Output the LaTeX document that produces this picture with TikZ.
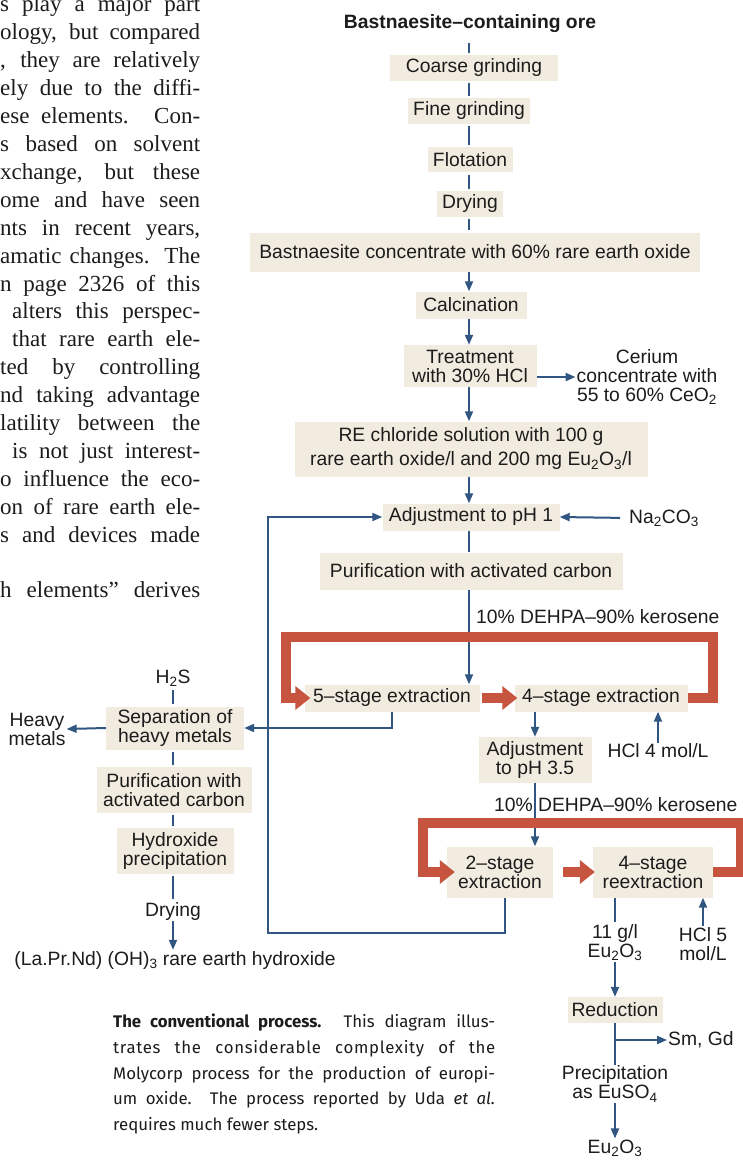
\documentclass[tikz,border=0pt]{standalone}
\usepackage{fontspec}
\setmainfont{Liberation Sans}
\newfontfamily\bodyfont{Liberation Serif}
\newfontfamily\capfont{Fira Sans}
\usetikzlibrary{arrows.meta}
\definecolor{boxfill}{RGB}{242,236,224}
\definecolor{flowblue}{RGB}{50,86,130}
\definecolor{flowred}{RGB}{198,84,62}
\definecolor{ink}{RGB}{28,28,28}
\newcommand\dfont{\fontsize{19.3}{19}\selectfont}
\newcommand\btext{\bodyfont\fontsize{23}{28}\selectfont}
\newcommand\ctext{\capfont\fontsize{16.8}{25.5}\selectfont}
\begin{document}
\begin{tikzpicture}[x=1pt,y=-1pt,
  every node/.style={text=ink},
  proc/.style={fill=boxfill, inner sep=0pt, align=center, font=\dfont},
  lbl/.style={inner sep=1pt, align=center, font=\dfont},
  conn/.style={draw=flowblue, line width=2pt},
  arr/.style={conn, -{Triangle[length=10pt,width=8pt]}},
  redarr/.style={draw=flowred, line width=9.5pt, line join=miter, -{Triangle[length=15pt,width=23pt]}},
  gap/.style={shorten <=2pt, shorten >=2pt},
  bline/.style={anchor=base west, inner sep=0pt, font=\btext},
  cline/.style={anchor=base west, inner sep=0pt, font=\ctext}
]
\fill[white] (0,0) rectangle (743,1161);
\useasboundingbox (0,0) rectangle (743,1161);

% ---- body text (cut-off column) ----
\node[bline] (b1) at (0,12) {\makebox[200pt][s]{s play a major part}};
\node[bline] (b2) at (0,39.9) {\makebox[200pt][s]{ology, but compared}};
\node[bline] (b3) at (0,67.8) {\makebox[200pt][s]{, they are relatively}};
\node[bline] (b4) at (0,95.7) {\makebox[200pt][s]{ely due to the diffi-}};
\node[bline] (b5) at (0,123.6) {\makebox[200pt][s]{ese elements. Con-}};
\node[bline] (b6) at (0,151.5) {\makebox[200pt][s]{s based on solvent}};
\node[bline] (b7) at (0,179.4) {\makebox[200pt][s]{xchange, but these}};
\node[bline] (b8) at (0,207.3) {\makebox[200pt][s]{ome and have seen}};
\node[bline] (b9) at (0,235.2) {\makebox[200pt][s]{nts in recent years,}};
\node[bline] (b10) at (0,263.1) {\makebox[200pt][s]{amatic changes. The}};
\node[bline] (b11) at (0,291) {\makebox[200pt][s]{n page 2326 of this}};
\node[bline] (b12) at (0,318.9) {\makebox[200pt][s]{\hspace*{12pt}alters this perspec-}};
\node[bline] (b13) at (0,346.8) {\makebox[200pt][s]{\hspace*{12pt}that rare earth ele-}};
\node[bline] (b14) at (0,374.7) {\makebox[200pt][s]{ted by controlling}};
\node[bline] (b15) at (0,402.6) {\makebox[200pt][s]{nd taking advantage}};
\node[bline] (b16) at (0,430.5) {\makebox[200pt][s]{latility between the}};
\node[bline] (b17) at (0,458.4) {\makebox[200pt][s]{\hspace*{12pt}is not just interest-}};
\node[bline] (b18) at (0,486.3) {\makebox[200pt][s]{o influence the eco-}};
\node[bline] (b19) at (0,514.2) {\makebox[200pt][s]{on of rare earth ele-}};
\node[bline] (b20) at (0,542.1) {\makebox[200pt][s]{s and devices made}};
\node[bline] (b22) at (0,597.9) {\makebox[200pt][s]{h elements” derives}};

% ---- main column ----
\node[font=\bfseries\dfont, inner sep=1pt] (title) at (470,24) {Bastnaesite–containing ore};
\node[proc, minimum width=168pt, minimum height=26pt] (coarse) at (474,68) {Coarse grinding};
\node[proc, minimum width=122pt, minimum height=26pt] (fine) at (469,111) {Fine grinding};
\node[proc, minimum width=85pt, minimum height=25pt] (flot) at (470,160) {Flotation};
\node[proc, minimum width=66pt, minimum height=26pt] (dry) at (470,204) {Drying};
\node[proc, minimum width=450pt, minimum height=39pt] (conc) at (475,252) {Bastnaesite concentrate with 60\% rare earth oxide};
\node[proc, minimum width=111pt, minimum height=27pt] (calc) at (471,305) {Calcination};
\node[proc, minimum width=133pt, minimum height=42pt] (treat) at (470,366) {Treatment\\with 30\% HCl};
\node[lbl] (cer) at (647,377) {Cerium\\concentrate with\\55 to 60\% CeO\textsubscript{2}};
\node[proc, minimum width=353pt, minimum height=55pt] (rechl) at (471,449) {RE chloride solution with 100 g\\[5pt]rare earth oxide/l and 200 mg Eu\textsubscript{2}O\textsubscript{3}/l};
\node[proc, minimum width=177pt, minimum height=27pt] (adj1) at (471,517) {Adjustment to pH 1};
\node[lbl, anchor=west] (na) at (628,518) {Na\textsubscript{2}CO\textsubscript{3}};
\node[proc, minimum width=303pt, minimum height=37pt] (purif) at (471,571) {Purification with activated carbon};
\node[lbl, anchor=west] (dehpa1) at (475,617) {10\% DEHPA–90\% kerosene};
\node[proc, minimum width=175pt, minimum height=27pt] (ext5) at (392,698) {5–stage extraction};
\node[proc, minimum width=173pt, minimum height=27pt] (ext4) at (601,698) {4–stage extraction};
\node[proc, minimum width=113pt, minimum height=46pt] (adj35) at (535,760) {Adjustment\\to pH 3.5};
\node[lbl] (hcl4) at (658,751) {HCl 4 mol/L};
\node[lbl, anchor=west] (dehpa2) at (493,805) {10\% DEHPA–90\% kerosene};
\node[proc, minimum width=106pt, minimum height=51pt] (ext2) at (500,872) {2–stage\\extraction};
\node[proc, minimum width=120pt, minimum height=51pt] (reext) at (653,872) {4–stage\\reextraction};
\node[lbl] (eu11) at (615,943) {11 g/l\\Eu\textsubscript{2}O\textsubscript{3}};
\node[lbl] (hcl5) at (703,944) {HCl 5\\mol/L};
\node[proc, minimum width=95pt, minimum height=26pt] (reduc) at (615,1010) {Reduction};
\node[lbl, anchor=west] (smgd) at (667,1040) {Sm, Gd};
\node[lbl] (precip) at (615,1084) {Precipitation\\as EuSO\textsubscript{4}};
\node[lbl] (euo) at (615,1148) {Eu\textsubscript{2}O\textsubscript{3}};

% ---- left column ----
\node[lbl] (h2s) at (173,678) {H\textsubscript{2}S};
\node[proc, minimum width=138pt, minimum height=43pt] (sep) at (175,728) {Separation of\\heavy metals};
\node[lbl] (heavy) at (37,729) {Heavy\\metals};
\node[proc, minimum width=155pt, minimum height=46pt] (purif2) at (174,790) {Purification with\\activated carbon};
\node[proc, minimum width=117pt, minimum height=46pt] (hydrox) at (175,851) {Hydroxide\\precipitation};
\node[lbl] (dry2) at (173,911) {Drying};
\node[lbl] (rehyd) at (175,960) {(La.Pr.Nd) (OH)\textsubscript{3} rare earth hydroxide};

% ---- caption ----
\node[cline] (c1) at (113,1027) {\makebox[382pt][s]{\textbf{The conventional process.} This diagram illus-}};
\node[cline] (c2) at (113,1053) {\makebox[382pt][s]{\addfontfeature{LetterSpace=4}trates the considerable complexity of the}};
\node[cline] (c3) at (113,1079) {\makebox[382pt][s]{Molycorp process for the production of europi-}};
\node[cline] (c4) at (113,1104.5) {\makebox[382pt][s]{um oxide. The process reported by Uda \textit{et al.}}};
\node[cline] (c5) at (113,1130) {requires much fewer steps.};

% ---- blue connectors ----
\coordinate (col) at (469,0);
\coordinate (col2) at (173,0);
\draw[conn, shorten <=9pt, shorten >=2pt] (title.south -| col) -- (coarse.north -| col);
\draw[conn, gap] (coarse.south -| col) -- (fine.north -| col);
\draw[conn, gap] (fine.south -| col) -- (flot.north -| col);
\draw[conn, gap] (flot.south -| col) -- (dry.north -| col);
\draw[conn, gap] (dry.south -| col) -- (conc.north -| col);
\draw[arr] (conc.south -| col) -- (calc.north -| col);
\draw[arr] (calc.south -| col) -- (treat.north -| col);
\draw[arr] (treat.south -| col) -- (rechl.north -| col);
\draw[arr] (treat.east |- cer.west) -- (cer.west);
\draw[arr] (rechl.south -| col) -- (adj1.north -| col);
\draw[arr, shorten <=8pt] (na.west) -- (adj1.east);
\draw[conn] (adj1.south -| col) -- (purif.north -| col);
\draw[arr] (purif.south -| col) -- (ext5.north -| col);
\coordinate (lp) at (268,933);
\draw[arr] ([xshift=5pt]ext2.south) |- (lp) |- (adj1.west);
\draw[arr] (ext5.south) |- (sep.east);
\draw[arr] (ext4.south -| adj35.north) -- (adj35.north);
\draw[arr] (hcl4.north) -- (ext4.south -| hcl4.north);
\draw[arr] (adj35.south) -- (ext2.north -| adj35.south);
\draw[conn, shorten >=2pt] (reext.south -| eu11.north) -- (eu11.north);
\draw[arr] (eu11.south) -- (reduc.north);
\draw[arr] (hcl5.north) -- (reext.south -| hcl5.north);
\draw[conn] (reduc.south) -- (precip.north);
\coordinate (br) at (615,1040);
\draw[arr] (br) -- (smgd.west);
\draw[arr] (precip.south) -- (euo.north);
% left column
\draw[conn, gap] (h2s.south -| col2) -- (sep.north -| col2);
\draw[conn, gap] (sep.south -| col2) -- (purif2.north -| col2);
\draw[conn, gap] (purif2.south -| col2) -- (hydrox.north -| col2);
\draw[conn, gap] (hydrox.south -| col2) -- (dry2.north -| col2);
\draw[arr] (dry2.south -| col2) -- (rehyd.north -| col2);
\draw[arr] (sep.west) -- (heavy.east);

% ---- red solvent loops ----
\coordinate (r1a) at (713,637);
\coordinate (r1b) at (286,637);
\draw[redarr, shorten >=-6pt] (ext4.east) -| (r1a) -- (r1b) |- (ext5.west);
\draw[redarr, shorten <=2pt, shorten >=-3pt] (ext5.east) -- (ext4.west);
\coordinate (r2a) at (741,823);
\coordinate (r2b) at (423,823);
\draw[redarr, shorten >=-8pt] (reext.east) -| (r2a) -- (r2b) |- (ext2.west);
\draw[redarr, shorten <=10pt, shorten >=-2pt] (ext2.east) -- (reext.west);
\end{tikzpicture}
\end{document}
